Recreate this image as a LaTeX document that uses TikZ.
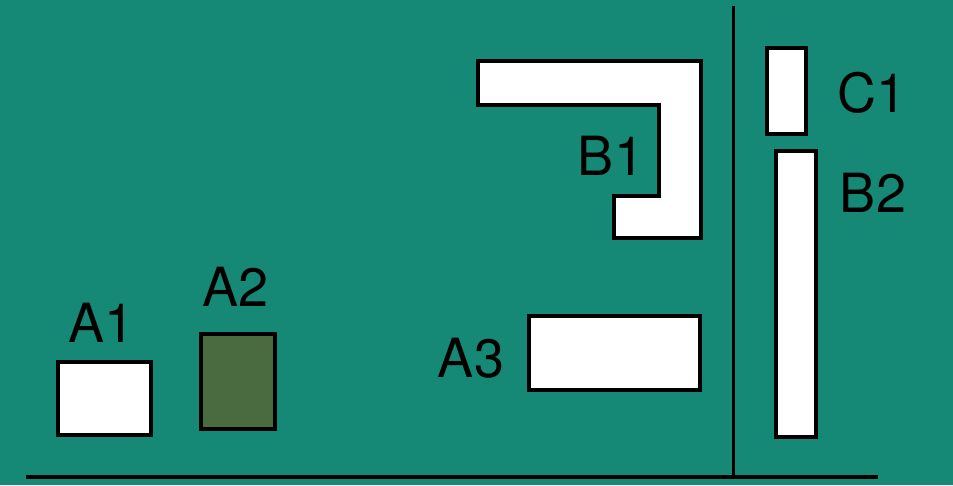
\documentclass[tikz,border=0pt]{standalone}
\usepackage{fontspec}
\setmainfont{TeX Gyre Heros}
\definecolor{floor}{RGB}{21,137,118}
\definecolor{moss}{RGB}{74,107,63}

\begin{document}
\begin{tikzpicture}[x=1pt, y=-1pt,
        box/.style={draw=black, line width=4pt, fill=white},
        lbl/.style={font=\fontsize{54}{54}\selectfont, anchor=base, inner sep=0pt}]
        \fill[floor] (0, 0) rectangle (953, 485);
        \useasboundingbox (0, 0) rectangle (953, 485);

        \draw[line width=4pt] (26, 477) -- (878, 477);
        \draw[line width=3pt] (733, 6) -- (733, 477);

        \draw[box] (58, 362) rectangle (151, 435);
        \draw[box, fill=moss] (201, 334) rectangle (275, 429);
        \draw[box] (529, 316) rectangle (700, 390);
        \draw[box] (478, 61) -- (701, 61) -- (701, 238) -- (614, 238) -- (614, 196)
            -- (659, 196) -- (659, 105) -- (478, 105) -- cycle;
        \draw[box] (767, 48) rectangle (806, 134);
        \draw[box] (776, 151) rectangle (816, 437);

        \node[lbl] (a1) at (102, 342) {A1};
        \node[lbl] (a2) at (236, 306) {A2};
        \node[lbl] (a3) at (471, 377) {A3};
        \node[lbl] (b1) at (611, 175) {B1};
        \node[lbl] (c1) at (872, 112) {C1};
        \node[lbl] (b2) at (873, 212) {B2};
    \end{tikzpicture}
\end{document}
